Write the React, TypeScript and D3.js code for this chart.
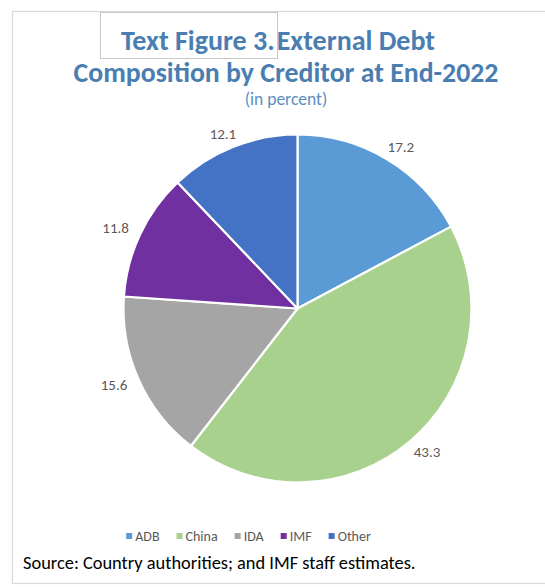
import React, { useEffect, useRef } from "react";
import * as d3 from "d3";

const categories = ["ADB", "China", "IDA", "IMF", "Other"];
const shares = [17.2, 43.3, 15.6, 11.8, 12.1];
const sliceColors = ["#5B9BD5", "#A9D18E", "#A5A5A5", "#7030A0", "#4472C4"];
const titleLine1a = "Text Figure 3.";
const titleLine1b = "External Debt";
const titleLine2 = "Composition by Creditor at End-2022";
const subtitle = "(in percent)";
const sourceNote = "Source: Country authorities; and IMF staff estimates.";

const W = 545;
const H = 587;
const FONT = "Carlito, Calibri, Lato, 'Noto Sans', sans-serif";

export default function App() {
  const ref = useRef<SVGSVGElement | null>(null);

  useEffect(() => {
    const svg = d3.select(ref.current);
    svg.selectAll("*").remove();

    // outer frame
    svg.append("rect")
      .attr("x", 12.5).attr("y", 11.5)
      .attr("width", W + 20).attr("height", 572)
      .attr("fill", "#fff").attr("stroke", "#D9D9D9").attr("stroke-width", 1.2);

    // box around "Text Figure 3."
    svg.append("rect")
      .attr("x", 100.5).attr("y", 12.5)
      .attr("width", 177).attr("height", 46)
      .attr("fill", "none").attr("stroke", "#C8C8C8").attr("stroke-width", 1);

    const titleColor = "#4A7EB1";
    const t1 = svg.append("text")
      .attr("x", 278).attr("y", 50)
      .attr("text-anchor", "middle")
      .attr("font-family", FONT).attr("font-weight", "bold")
      .attr("font-size", 28).attr("fill", titleColor);
    t1.append("tspan").text(titleLine1a);
    t1.append("tspan").attr("dx", 2).text(titleLine1b);

    svg.append("text")
      .attr("x", 286).attr("y", 82)
      .attr("text-anchor", "middle")
      .attr("font-family", FONT).attr("font-weight", "bold")
      .attr("font-size", 27.8).attr("fill", titleColor)
      .text(titleLine2);

    svg.append("text")
      .attr("x", 286).attr("y", 105)
      .attr("text-anchor", "middle")
      .attr("font-family", FONT)
      .attr("font-size", 17.5).attr("fill", "#5B8EC2")
      .text(subtitle);

    // pie
    const cx = 297.5, cy = 308.5, R = 174;
    const data = categories.map((c, i) => ({ name: c, value: shares[i], color: sliceColors[i] }));
    const pie = d3.pie<any>().sort(null).value((d: any) => d.value);
    const arcs = pie(data);
    const arc = d3.arc<any>().innerRadius(0).outerRadius(R);
    const g = svg.append("g").attr("transform", `translate(${cx},${cy})`);
    g.selectAll("path.slice").data(arcs).enter().append("path")
      .attr("class", "slice")
      .attr("d", arc as any)
      .attr("fill", (d: any) => d.data.color)
      .attr("stroke", "#fff").attr("stroke-width", 2.2)
      .attr("stroke-linejoin", "round");

    // labels (outside end)
    g.selectAll("text.lbl").data(arcs).enter().append("text")
      .attr("class", "lbl")
      .attr("x", (d: any) => {
        const a = (d.startAngle + d.endAngle) / 2;
        return Math.sin(a) * (R + 10) + Math.sin(a) * 17;
      })
      .attr("y", (d: any) => {
        const a = (d.startAngle + d.endAngle) / 2;
        return -Math.cos(a) * (R + 8) - Math.cos(a) * 6 + 5;
      })
      .attr("text-anchor", "middle")
      .attr("font-family", FONT).attr("font-size", 15)
      .attr("fill", "#595959")
      .text((d: any) => d.data.value.toFixed(1));

    // legend
    const lg = svg.append("g");
    let x = 0;
    data.forEach((d) => {
      const item = lg.append("g").attr("transform", `translate(${x},0)`);
      item.append("rect").attr("x", 0).attr("y", -3).attr("width", 6).attr("height", 6).attr("fill", d.color);
      const t = item.append("text").attr("x", 9).attr("y", 5)
        .attr("font-family", FONT).attr("font-size", 14).attr("fill", "#595959").text(d.name);
      const w = (t.node() as SVGTextElement).getComputedTextLength();
      x += 9 + w + 17;
    });
    const totalW = x - 17;
    lg.attr("transform", `translate(${248.5 - totalW / 2},536)`);

    svg.append("text")
      .attr("x", 23).attr("y", 569)
      .attr("font-family", FONT).attr("font-size", 18.4).attr("fill", "#000")
      .text(sourceNote);
  }, []);

  return (
    <svg ref={ref} width={W} height={H}
      style={{ position: "absolute", left: 0, top: 0, background: "#fff" }} />
  );
}
